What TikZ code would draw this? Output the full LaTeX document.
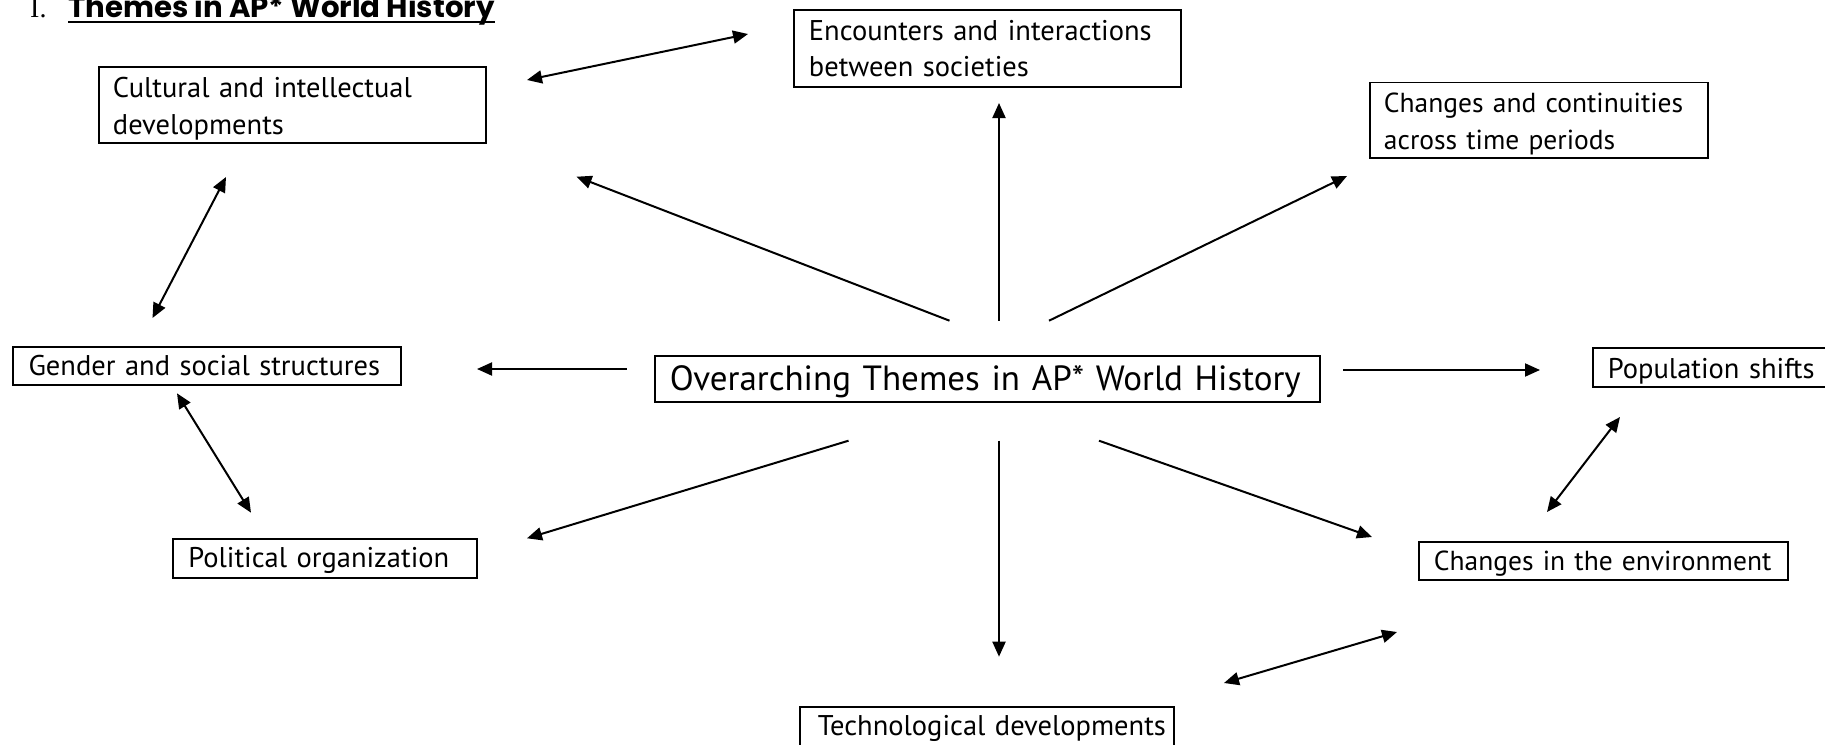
\documentclass[tikz,border=0pt]{standalone}
\usepackage{fontspec}
\setmainfont{PT Sans}
\newfontfamily\titlefont{Poppins}
\newfontfamily\numfont{Liberation Serif}
\usetikzlibrary{arrows.meta}
\tikzset{
  box/.style={draw, line width=1.9pt, anchor=north west, align=left, inner xsep=15pt, inner ysep=0pt,
    font=\fontsize{28.5}{36.6}\selectfont},
  arr/.style={line width=2pt, -{Triangle[length=15pt,width=13pt]}},
  darr/.style={line width=2pt, {Triangle[length=15pt,width=13pt]}-{Triangle[length=15pt,width=13pt]}},
}
\begin{document}
\begin{tikzpicture}[x=1pt,y=-1pt]
\useasboundingbox (0,0) rectangle (1825,744);
% title
\node[anchor=base west, inner sep=0pt, font=\numfont\fontsize{28}{32}\selectfont] (num) at (30,17.5) {I.};
\node[anchor=base west, inner sep=0pt, font=\titlefont\bfseries\fontsize{29.2}{34}\selectfont] (title) at (68,17.5) {Themes in AP* World History};
\draw[line width=2.2pt] ([yshift=-4.2pt]title.base west) -- ([yshift=-4.2pt]title.base east);
% boxes
\node[box, text width=359pt, text height=31pt, text depth=45pt, inner xsep=14pt] (cult) at (98,66) {\mbox{Cultural and intellectual}\\\mbox{developments}};
\node[box, text width=357pt, text height=30.3pt, text depth=46.7pt] (enc) at (793,9) {\mbox{Encounters and interactions}\\\mbox{between societies}};
\node[box, text width=310pt, text height=30.2pt, text depth=45.3pt, inner xsep=14pt, font=\fontsize{27.5}{36.6}\selectfont] (chg) at (1369,81.5) {\mbox{Changes and continuities}\\\mbox{across time periods}};
\node[box, text width=356pt, text height=29pt, text depth=9pt, inner xsep=16pt] (gen) at (11.6,345.7) {\mbox{Gender and social structures}};
\node[box, text width=635pt, text height=35pt, text depth=11pt, font=\fontsize{35}{40}\selectfont] (ctr) at (654,355) {\mbox{Overarching Themes in AP* World History}};
\node[box, text width=210pt, text height=30.6pt, text depth=8.7pt] (pop) at (1592,346.7) {\mbox{Population shifts}};
\node[box, text width=274pt, text height=29pt, text depth=10.3pt] (pol) at (172.4,537.7) {\mbox{Political organization}};
\node[box, text width=339pt, text height=28.3pt, text depth=9.7pt, font=\fontsize{27.5}{36.6}\selectfont] (env) at (1418,541) {\mbox{Changes in the environment}};
\node[box, text width=338pt, text height=29pt, text depth=12pt, inner xsep=18pt] (tech) at (799,706) {\mbox{Technological developments}};
% arrow end points
\coordinate (f1) at (949.5,320.7); \coordinate (f2) at (576.6,176.7);
\coordinate (g1) at (999,320.7);   \coordinate (g2) at (999,103);
\coordinate (h1) at (1049,320.7);  \coordinate (h2) at (1347,176);
\coordinate (i1) at (626.5,369);   \coordinate (i2) at (477,369);
\coordinate (j1) at (1343,370);    \coordinate (j2) at (1540,370);
\coordinate (k1) at (848.5,440.7); \coordinate (k2) at (527,538.3);
\coordinate (l1) at (999,440.7);   \coordinate (l2) at (999,656.7);
\coordinate (m1) at (1099,440.7);  \coordinate (m2) at (1372,537);
\coordinate (a1) at (527,80);      \coordinate (a2) at (748,34);
\coordinate (b1) at (226,177);     \coordinate (b2) at (152.5,318);
\coordinate (c1) at (177,393.3);   \coordinate (c2) at (251,512.7);
\coordinate (d1) at (1620,417);    \coordinate (d2) at (1547,512);
\coordinate (e1) at (1397,632);    \coordinate (e2) at (1224,683);
% radial arrows
\draw[arr] (f1) -- (f2);
\draw[arr] (g1) -- (g2);
\draw[arr] (h1) -- (h2);
\draw[arr] (i1) -- (i2);
\draw[arr] (j1) -- (j2);
\draw[arr] (k1) -- (k2);
\draw[arr] (l1) -- (l2);
\draw[arr] (m1) -- (m2);
% double arrows
\draw[darr] (a1) -- (a2);
\draw[darr] (b1) -- (b2);
\draw[darr] (c1) -- (c2);
\draw[darr] (d1) -- (d2);
\draw[darr] (e1) -- (e2);
\end{tikzpicture}
\end{document}
